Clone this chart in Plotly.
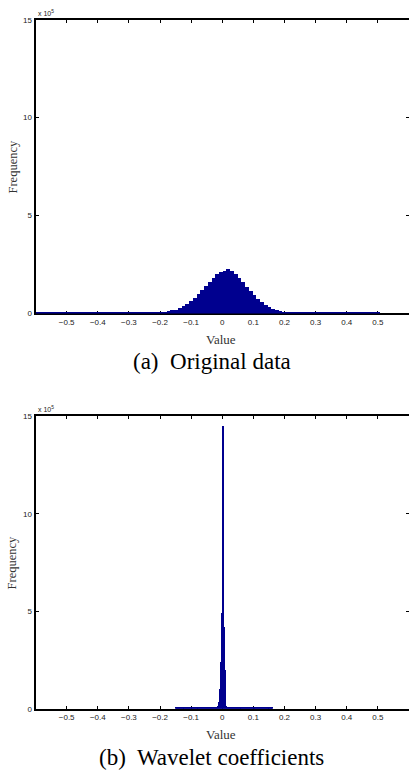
import numpy as np
import plotly.graph_objects as go

# ---------------- data (counts) ----------------
# (a) Original data: histogram, bin width 0.012 starting at -0.6
a_bin_start = -0.6
a_bin_width = 0.012
a_n_bins = 92
# counts (x 10^5) of the visible central bins, from center -0.198 to 0.198
a_center_first = -0.198
a_center_counts = [0.05, 0.08, 0.12, 0.17, 0.20, 0.29, 0.37, 0.49, 0.62, 0.79,
                   0.98, 1.18, 1.43, 1.63, 1.84, 2.00, 2.14, 2.19, 2.26, 2.17,
                   2.00, 1.84, 1.63, 1.38, 1.16, 0.94, 0.74, 0.57, 0.42, 0.32,
                   0.22, 0.17, 0.12, 0.08, 0.05]
a_tail = 0.05  # near-zero bins elsewhere

# (b) Wavelet coefficients: histogram, bin width 0.003 from -0.15 to 0.16
b_bin_width = 0.003
b_j_min, b_j_max = -50, 53
b_center_first_j = -6
b_center_counts = [0.05, 0.15, 0.35, 1.0, 2.4, 4.9, 14.5, 4.2, 2.0, 0.4, 0.15, 0.05]
b_tail = 0.04

x_tickvals = [-0.5, -0.4, -0.3, -0.2, -0.1, 0, 0.1, 0.2, 0.3, 0.4, 0.5]
x_ticktext = ['\u22120.5', '\u22120.4', '\u22120.3', '\u22120.2', '\u22120.1', '0',
              '0.1', '0.2', '0.3', '0.4', '0.5']
y_tickvals = [0, 5e5, 10e5, 15e5]
y_ticktext = ['0', '5', '10', '15']
captions = ['(a)  Original data', '(b)  Wavelet coefficients']

# ---------------- build bins ----------------
a_centers = a_bin_start + a_bin_width * (np.arange(a_n_bins) + 0.5)
a_counts = np.full(a_n_bins, a_tail)
k0 = int(round((a_center_first - a_bin_start) / a_bin_width - 0.5))
a_counts[k0:k0 + len(a_center_counts)] = a_center_counts
a_counts = a_counts * 1e5

b_js = np.arange(b_j_min, b_j_max + 1)
b_centers = b_js * b_bin_width
b_counts = np.full(len(b_js), b_tail)
i0 = b_center_first_j - b_j_min
b_counts[i0:i0 + len(b_center_counts)] = b_center_counts
b_counts = b_counts * 1e5

# figure is slightly wider than the 409 px window: the right border of the
# axes falls just outside the visible page, as in the reference
W, H = 411, 778
BAR = '#00008F'

def px(x):
    return x / W

def py(y):
    return 1 - y / H

fig = go.Figure()
fig.add_trace(go.Bar(x=a_centers, y=a_counts, width=a_bin_width, marker_color=BAR,
                     marker_line_width=0, xaxis='x', yaxis='y', showlegend=False))
fig.add_trace(go.Bar(x=b_centers, y=b_counts, width=b_bin_width, marker_color=BAR,
                     marker_line_width=0, xaxis='x2', yaxis='y2', showlegend=False))

x_left = 35.7
x_range = [-0.6, 0.6]
tickfont = dict(family='Liberation Sans, Arial, sans-serif', size=8, color='#222')

def xaxis(anchor, top, bottom):
    return dict(domain=[px(x_left), 1.0], range=x_range, anchor=anchor,
                tickvals=x_tickvals, ticktext=x_ticktext, ticks='inside', ticklen=3,
                tickwidth=1, tickcolor='black', showline=True, linewidth=1.5,
                linecolor='black', mirror='ticks', showgrid=False, zeroline=False,
                tickfont=tickfont, layer='below traces', fixedrange=True)

def yaxis(anchor, top, bottom):
    return dict(domain=[py(bottom), py(top)], range=[0, 15e5], anchor=anchor,
                tickvals=y_tickvals, ticktext=y_ticktext, ticks='inside', ticklen=3,
                tickwidth=1, tickcolor='black', showline=True, linewidth=2,
                linecolor='black', mirror='ticks', showgrid=False, zeroline=False,
                tickfont=tickfont, layer='below traces', fixedrange=True)

tops = [(16, 313), (417, 713)]
fig.update_layout(
    width=W, height=H, margin=dict(l=0, r=0, t=0, b=0),
    paper_bgcolor='white', plot_bgcolor='white', bargap=0,
    xaxis=xaxis('y', *tops[0]), yaxis=yaxis('x', *tops[0]),
    xaxis2=xaxis('y2', *tops[1]), yaxis2=yaxis('x2', *tops[1]),
)

serif = 'Liberation Serif, Times New Roman, serif'
ann = []
for i, (top, bottom) in enumerate(tops):
    ann.append(dict(x=px(36), y=py(top - 1), xref='paper', yref='paper', xanchor='left',
                    yanchor='bottom', showarrow=False, text='x 10<sup>5</sup>',
                    font=dict(family='Liberation Sans, Arial, sans-serif', size=7, color='#222')))
    ann.append(dict(x=px(13), y=py((top + bottom) / 2), xref='paper', yref='paper',
                    xanchor='center', yanchor='middle',
                    showarrow=False, text='Frequency', textangle=-90,
                    font=dict(family=serif, size=12.5, color='#333')))
    ann.append(dict(x=px(222), y=py(bottom + 26), xref='paper', yref='paper',
                    xanchor='center', yanchor='middle',
                    showarrow=False, text='Value', font=dict(family=serif, size=13, color='#333')))
    ann.append(dict(x=px(213), y=py(bottom + 49), xref='paper', yref='paper',
                    xanchor='center', yanchor='middle',
                    showarrow=False, text=captions[i], font=dict(family=serif, size=23, color='black')))
fig.update_layout(annotations=ann)

fig.write_html('out.html', config={'displayModeBar': False},
               post_script="document.body.style.margin='0';document.body.style.overflow='hidden';"
                           "document.documentElement.style.overflow='hidden';")
